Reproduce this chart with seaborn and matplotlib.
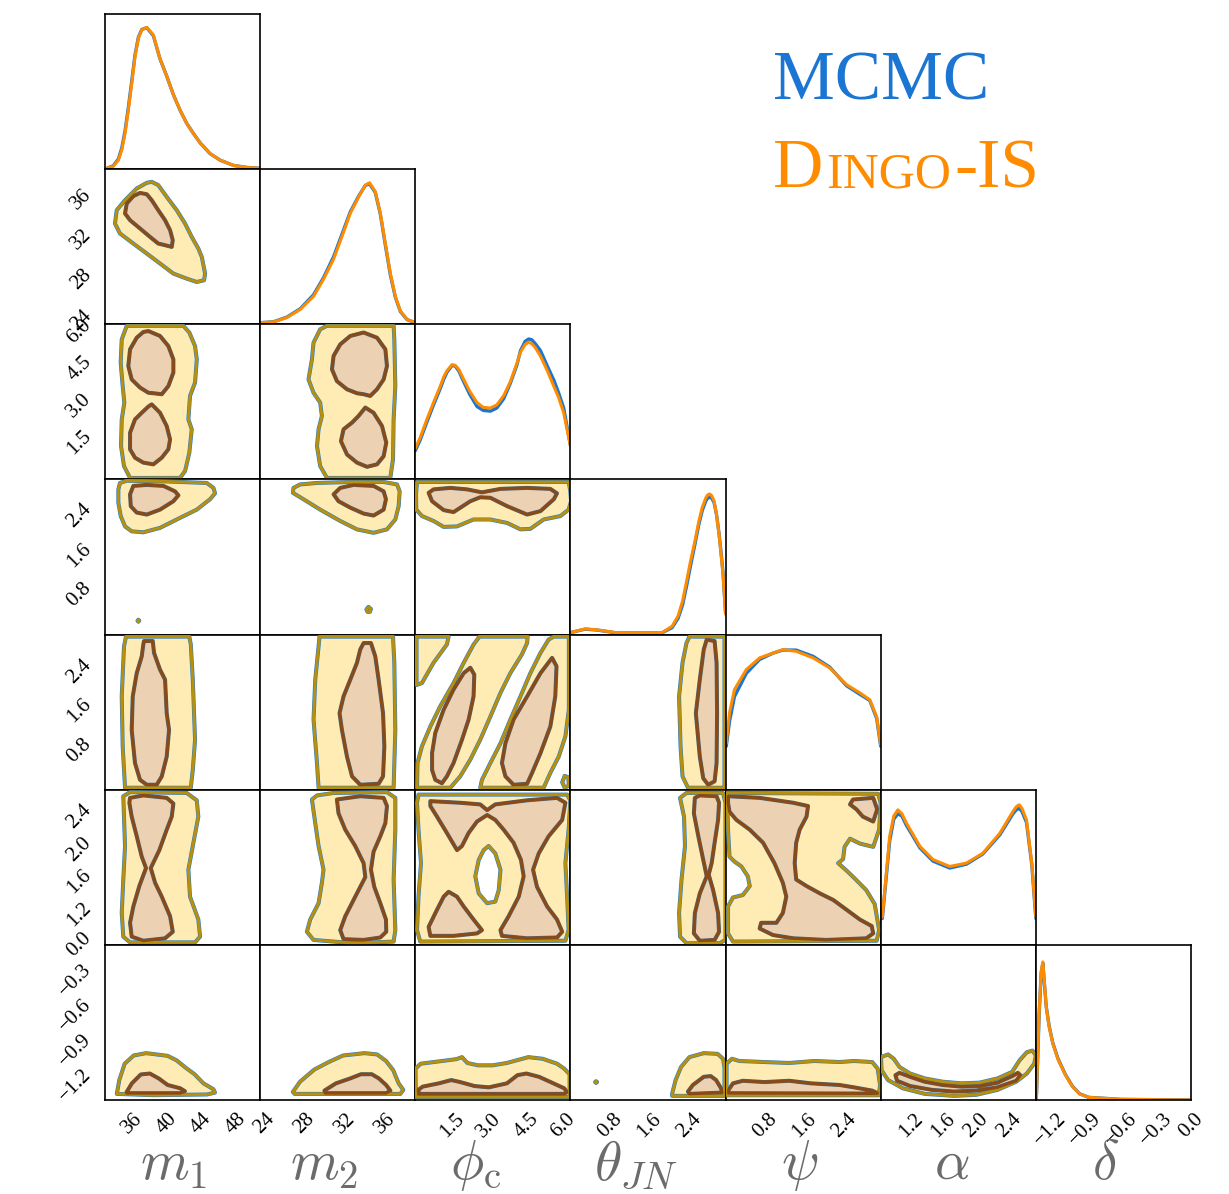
import matplotlib
matplotlib.use("Agg")
import matplotlib.pyplot as plt
import seaborn as sns

sns.set_theme(style="white")
plt.rcParams["font.family"] = ["Liberation Serif", "DejaVu Serif"]
plt.rcParams["mathtext.fontset"] = "cm"
plt.rcParams["axes.unicode_minus"] = True

# ---------------- parameters / axes ----------------
LABELS = [r"$m_1$", r"$m_2$", r"$\phi_\mathrm{c}$", r"$\theta_{JN}$", r"$\psi$", r"$\alpha$", r"$\delta$"]
LIMITS = [(32.9, 50.8), (23.6, 39.0), (0.0, 6.283), (0.0, 3.1416), (0.0, 3.1416), (0.83, 2.73), (-1.325, 0.0)]
TICKS = [[36, 40, 44, 48], [24, 28, 32, 36], [1.5, 3.0, 4.5, 6.0], [0.8, 1.6, 2.4],
         [0.8, 1.6, 2.4], [1.2, 1.6, 2.0, 2.4], [-1.2, -0.9, -0.6, -0.3, 0.0]]
TICK_LABELS = [["36", "40", "44", "48"], ["24", "28", "32", "36"], ["1.5", "3.0", "4.5", "6.0"],
               ["0.8", "1.6", "2.4"], ["0.8", "1.6", "2.4"], ["1.2", "1.6", "2.0", "2.4"],
               ["\u22121.2", "\u22120.9", "\u22120.6", "\u22120.3", "0.0"]]
LABEL_X = [0.445, 0.41, 0.39, 0.42, 0.48, 0.46, 0.45]

# ---------------- 1D marginals (relative density) ----------------
M1_GRID = [33.10, 33.86, 34.44, 34.83, 35.21, 35.59, 35.98, 36.36, 36.75, 37.14, 37.72, 38.48, 39.25,
           40.02, 40.79, 41.56, 42.33, 43.10, 43.87, 45.02, 46.18, 47.72, 49.26, 50.72]
M1_DINGO = [0.005, 0.019, 0.058, 0.123, 0.23, 0.38, 0.55, 0.725, 0.843, 0.897, 0.914, 0.865, 0.71,
            0.60, 0.48, 0.381, 0.294, 0.23, 0.17, 0.10, 0.058, 0.024, 0.011, 0.006]
M1_MCMC = [0.005, 0.022, 0.065, 0.135, 0.245, 0.395, 0.565, 0.735, 0.85, 0.90, 0.912, 0.86, 0.71,
           0.60, 0.48, 0.38, 0.295, 0.23, 0.17, 0.10, 0.058, 0.024, 0.011, 0.006]

M2_GRID = [23.77, 24.92, 26.25, 27.58, 28.90, 29.89, 30.89, 31.72, 32.55, 33.37, 34.04, 34.46, 35.03,
           35.53, 36.03, 36.52, 37.02, 37.52, 38.18, 39.0]
M2_DINGO = [0.011, 0.015, 0.043, 0.096, 0.18, 0.29, 0.42, 0.566, 0.716, 0.82, 0.897, 0.912, 0.855,
            0.716, 0.52, 0.33, 0.18, 0.085, 0.032, 0.011]
M2_MCMC = [0.011, 0.016, 0.046, 0.10, 0.19, 0.30, 0.435, 0.58, 0.725, 0.825, 0.895, 0.905, 0.85,
           0.71, 0.51, 0.32, 0.175, 0.082, 0.03, 0.01]

PHI_GRID = [0.0, 0.2, 0.47, 0.75, 1.01, 1.15, 1.28, 1.49, 1.62, 1.76, 1.96, 2.2, 2.50, 2.75, 3.04, 3.3,
            3.58, 3.85, 4.12, 4.26, 4.45, 4.59, 4.72, 4.86, 5.07, 5.35, 5.61, 5.8, 6.01, 6.283]
PHI_DINGO = [0.20, 0.27, 0.387, 0.50, 0.60, 0.66, 0.70, 0.74, 0.735, 0.71, 0.645, 0.57, 0.495, 0.465,
             0.46, 0.48, 0.54, 0.63, 0.75, 0.82, 0.87, 0.885, 0.875, 0.85, 0.795, 0.70, 0.60, 0.53,
             0.43, 0.215]
PHI_MCMC = [0.185, 0.255, 0.37, 0.485, 0.585, 0.645, 0.69, 0.735, 0.73, 0.70, 0.63, 0.55, 0.47, 0.445,
            0.44, 0.46, 0.52, 0.62, 0.74, 0.83, 0.89, 0.905, 0.90, 0.875, 0.83, 0.73, 0.64, 0.56,
            0.46, 0.22]

THETA_GRID = [0.0, 0.03, 0.30, 0.54, 0.91, 1.40, 1.86, 2.06, 2.18, 2.27, 2.35, 2.43, 2.52, 2.60, 2.67,
              2.74, 2.78, 2.82, 2.86, 2.91, 2.96, 3.01, 3.05, 3.09, 3.1416]
THETA_DINGO = [0.012, 0.015, 0.037, 0.030, 0.013, 0.010, 0.013, 0.054, 0.12, 0.215, 0.34, 0.47, 0.60,
               0.73, 0.82, 0.88, 0.90, 0.906, 0.895, 0.86, 0.77, 0.645, 0.52, 0.39, 0.13]
THETA_MCMC = [0.012, 0.015, 0.035, 0.029, 0.012, 0.010, 0.012, 0.045, 0.105, 0.19, 0.31, 0.44, 0.58,
              0.71, 0.80, 0.86, 0.88, 0.885, 0.88, 0.85, 0.77, 0.65, 0.53, 0.40, 0.14]

PSI_GRID = [0.014, 0.08, 0.18, 0.42, 0.69, 0.96, 1.16, 1.43, 1.77, 2.11, 2.45, 2.72, 2.92, 3.06, 3.1416]
PSI_DINGO = [0.30, 0.495, 0.645, 0.774, 0.85, 0.88, 0.903, 0.892, 0.85, 0.785, 0.677, 0.624, 0.58,
             0.47, 0.29]
PSI_MCMC = [0.28, 0.44, 0.60, 0.75, 0.84, 0.88, 0.90, 0.90, 0.86, 0.79, 0.67, 0.615, 0.575, 0.46, 0.28]

ALPHA_GRID = [0.85, 0.94, 0.99, 1.04, 1.09, 1.145, 1.31, 1.47, 1.675, 1.88, 2.08, 2.29, 2.45, 2.49,
              2.525, 2.56, 2.615, 2.68, 2.73]
ALPHA_DINGO = [0.18, 0.70, 0.83, 0.87, 0.845, 0.785, 0.635, 0.55, 0.505, 0.527, 0.59, 0.72, 0.86,
               0.89, 0.903, 0.88, 0.806, 0.527, 0.18]
ALPHA_MCMC = [0.17, 0.67, 0.81, 0.845, 0.83, 0.77, 0.625, 0.54, 0.495, 0.52, 0.585, 0.71, 0.845,
              0.87, 0.88, 0.86, 0.79, 0.52, 0.17]

DELTA_GRID = [-1.325, -1.319, -1.297, -1.279, -1.265, -1.254, -1.236, -1.212, -1.181, -1.135, -1.073,
              -1.012, -0.951, -0.874, -0.598, 0.0]
DELTA_DINGO = [0.0, 0.043, 0.56, 0.83, 0.89, 0.78, 0.60, 0.475, 0.367, 0.26, 0.162, 0.086, 0.039,
               0.017, 0.004, 0.0]
DELTA_MCMC = [0.0, 0.04, 0.55, 0.82, 0.88, 0.77, 0.60, 0.48, 0.37, 0.265, 0.165, 0.088, 0.04,
              0.017, 0.004, 0.0]

# ---------------- 2D credible regions (x, y) in data units ----------------
# row m2 / col m1
M2_M1_OUT = [(38.29, 37.74), (39.05, 37.41), (40.02, 36.25), (41.18, 34.92), (42.14, 33.60), (42.91, 32.27),
             (43.67, 31.12), (44.07, 30.28), (44.45, 28.63), (44.33, 27.97), (43.49, 27.80), (42.33, 28.13),
             (40.79, 28.63), (39.25, 29.63), (37.72, 30.62), (36.17, 31.61), (34.63, 32.61), (34.05, 33.60),
             (34.25, 34.92), (35.21, 35.92), (36.56, 37.08), (37.72, 37.64)]
M2_M1_IN = [(36.94, 36.64), (37.72, 36.51), (38.29, 35.92), (39.05, 34.92), (39.83, 33.93), (40.41, 32.94),
            (40.72, 31.94), (40.60, 31.28), (39.83, 31.45), (39.05, 31.61), (38.10, 32.27), (36.94, 33.11),
            (35.79, 33.93), (35.21, 34.60), (35.41, 35.59), (36.17, 36.32)]
# row phi_c
PHI_M1_OUT = [(35.41, 6.22), (41.94, 6.22), (42.63, 5.95), (43.29, 5.40), (43.49, 4.86), (43.29, 3.92),
              (42.71, 3.38), (42.52, 2.43), (42.91, 2.03), (42.63, 1.08), (42.14, 0.34), (41.56, 0.06),
              (35.79, 0.06), (35.09, 0.54), (34.75, 1.35), (34.83, 2.43), (35.13, 3.11), (34.94, 3.78),
              (34.71, 4.73), (34.83, 5.67)]
PHI_M1_IN_A = [(37.90, 6.01), (39.25, 5.81), (40.21, 5.40), (40.79, 4.86), (40.79, 4.33), (40.21, 3.78),
               (39.45, 3.45), (38.48, 3.49), (37.90, 3.51), (36.94, 3.72), (35.98, 4.05), (35.59, 4.59),
               (35.79, 5.27), (36.56, 5.74), (37.32, 5.97)]
PHI_M1_IN_B = [(38.29, 3.04), (39.25, 2.70), (40.02, 2.16), (40.41, 1.62), (40.21, 1.22), (39.45, 0.88),
               (38.48, 0.61), (37.32, 0.68), (36.36, 0.88), (35.79, 1.22), (35.79, 1.89), (36.36, 2.43),
               (37.14, 2.70), (37.90, 2.95)]
PHI_M2_OUT = [(30.23, 6.22), (36.85, 6.22), (36.92, 5.67), (37.02, 3.78), (36.85, 2.43), (36.79, 0.81),
              (36.52, 0.06), (30.23, 0.06), (29.56, 0.54), (29.24, 1.35), (29.40, 2.03), (29.73, 2.57),
              (29.56, 3.11), (28.90, 3.51), (28.40, 4.05), (28.74, 4.86), (28.90, 5.54), (29.56, 6.08)]
PHI_M2_IN_A = [(33.87, 5.95), (35.20, 5.74), (36.03, 5.27), (36.19, 4.59), (35.86, 4.05), (35.20, 3.65),
               (34.53, 3.38), (33.87, 3.45), (33.21, 3.49), (32.22, 3.65), (31.22, 3.98), (30.73, 4.46),
               (30.89, 5.00), (31.55, 5.47), (32.55, 5.81)]
PHI_M2_IN_B = [(34.04, 2.91), (34.86, 2.70), (35.70, 2.16), (36.12, 1.49), (35.86, 0.94), (35.20, 0.61),
               (34.21, 0.51), (33.21, 0.68), (32.22, 1.01), (31.62, 1.55), (31.88, 2.03), (32.72, 2.30),
               (33.37, 2.57)]
# row theta_JN
TH_M1_OUT = [(34.63, 3.07), (35.41, 3.115), (40.02, 3.10), (44.64, 3.07), (45.41, 2.97), (45.60, 2.86),
             (45.02, 2.74), (43.49, 2.53), (41.18, 2.33), (39.25, 2.16), (37.32, 2.07), (35.98, 2.09),
             (35.21, 2.19), (34.71, 2.40), (34.44, 2.67), (34.44, 2.94)]
TH_M1_IN = [(36.17, 3.01), (37.72, 3.03), (39.64, 3.01), (40.98, 2.90), (41.37, 2.82), (40.79, 2.70),
            (39.25, 2.53), (37.72, 2.43), (36.56, 2.47), (35.87, 2.60), (35.79, 2.84)]
TH_M1_DOT = [(36.65, 0.28), (36.75, 0.30), (36.85, 0.28), (36.75, 0.26)]
TH_M2_OUT = [(26.91, 2.97), (27.58, 3.04), (29.24, 3.07), (32.55, 3.09), (35.86, 3.09), (37.19, 3.04),
             (37.45, 2.90), (37.35, 2.60), (37.02, 2.33), (36.19, 2.13), (34.86, 2.06), (33.21, 2.13),
             (31.55, 2.30), (29.56, 2.53), (27.90, 2.74), (26.85, 2.87)]
TH_M2_IN = [(31.55, 2.97), (32.87, 3.03), (34.86, 3.01), (35.86, 2.90), (36.09, 2.74), (35.86, 2.53),
            (34.86, 2.41), (33.87, 2.45), (32.55, 2.57), (31.38, 2.70), (30.89, 2.84)]
TH_M2_DOT = [(34.15, 0.51), (34.35, 0.56), (34.60, 0.52), (34.50, 0.46), (34.25, 0.46)]
TH_PHI_OUT = [(0.07, 3.09), (6.21, 3.09), (6.28, 2.90), (6.31, 2.70), (6.21, 2.53), (5.88, 2.40), (5.20, 2.33),
              (4.66, 2.14), (4.26, 2.13), (3.72, 2.26), (3.04, 2.33), (2.36, 2.33), (1.69, 2.19), (1.15, 2.18),
              (0.74, 2.30), (0.27, 2.40), (0.04, 2.53), (0.03, 2.85)]
TH_PHI_IN = [(0.54, 2.87), (0.74, 2.94), (1.42, 2.97), (2.10, 2.94), (2.70, 2.88), (3.45, 2.95), (4.53, 2.97),
             (5.47, 2.95), (5.74, 2.86), (5.61, 2.74), (5.07, 2.50), (4.53, 2.43), (3.72, 2.60), (3.04, 2.77),
             (2.63, 2.78), (2.23, 2.70), (1.55, 2.48), (1.15, 2.52), (0.68, 2.70)]
# row psi
PSI_M1_OUT = [(35.32, 3.10), (42.63, 3.10), (42.80, 2.94), (43.03, 2.23), (43.29, 1.01), (43.03, 0.40),
              (42.80, 0.04), (35.21, 0.04), (34.94, 0.88), (34.83, 1.89), (35.09, 2.90)]
PSI_M1_IN = [(37.40, 3.01), (38.41, 3.01), (38.56, 2.77), (39.25, 2.43), (39.83, 2.23), (40.02, 1.55),
             (40.29, 1.21), (40.02, 0.67), (39.45, 0.27), (38.87, 0.10), (37.72, 0.10), (36.94, 0.20),
             (36.36, 0.54), (35.98, 1.21), (36.10, 1.89), (36.56, 2.36), (37.14, 2.70), (37.32, 2.94)]
PSI_M2_OUT = [(29.49, 3.10), (36.79, 3.10), (36.92, 2.57), (37.02, 1.21), (36.85, 0.04), (29.40, 0.04),
              (29.24, 0.54), (28.90, 1.42), (29.07, 2.23), (29.40, 2.90)]
PSI_M2_IN = [(33.87, 2.97), (34.60, 2.97), (35.03, 2.70), (35.36, 2.23), (35.80, 1.55), (35.93, 0.88),
             (35.80, 0.27), (35.36, 0.12), (33.54, 0.10), (32.72, 0.27), (32.22, 0.67), (31.72, 1.21),
             (31.48, 1.55), (31.88, 1.89), (32.55, 2.23), (33.21, 2.57), (33.54, 2.84)]
PSI_PHI_OUT_A = [(0.05, 3.10), (1.35, 3.10), (1.28, 2.94), (0.74, 2.57), (0.27, 2.16), (0.05, 2.12)]
PSI_PHI_OUT_B = [(0.07, 0.04), (0.09, 0.54), (0.27, 0.88), (0.61, 1.28), (1.01, 1.69), (1.55, 2.16),
                 (1.96, 2.57), (2.36, 2.94), (2.60, 3.10), (4.55, 3.10), (4.53, 2.97), (4.32, 2.74),
                 (3.85, 2.36), (3.45, 1.96), (3.04, 1.48), (2.63, 1.01), (2.23, 0.61), (1.82, 0.27), (1.42, 0.04)]
PSI_PHI_OUT_C = [(2.63, 0.04), (2.70, 0.20), (3.04, 0.54), (3.45, 0.94), (3.85, 1.42), (4.26, 1.89),
                 (4.66, 2.36), (5.07, 2.77), (5.40, 3.04), (5.61, 3.10), (6.22, 3.10), (6.22, 1.62),
                 (6.08, 1.08), (5.81, 0.67), (5.47, 0.34), (5.20, 0.04)]
PSI_PHI_OUT_D = [(5.95, 0.15), (6.05, 0.28), (6.20, 0.25), (6.22, 0.08), (6.05, 0.04)]
PSI_PHI_IN_B = [(2.23, 2.47), (2.39, 2.33), (2.36, 1.89), (2.16, 1.42), (1.89, 1.01), (1.55, 0.54),
                (1.28, 0.27), (1.08, 0.13), (0.81, 0.20), (0.68, 0.40), (0.68, 0.74), (0.81, 1.15),
                (1.15, 1.62), (1.55, 2.03), (1.96, 2.36)]
PSI_PHI_IN_C = [(5.54, 2.67), (5.72, 2.50), (5.67, 1.89), (5.47, 1.28), (5.07, 0.74), (4.73, 0.34),
                (4.53, 0.12), (3.98, 0.10), (3.65, 0.27), (3.51, 0.54), (3.65, 0.94), (3.98, 1.42),
                (4.53, 1.89), (5.07, 2.36)]
PSI_TH_OUT = [(2.41, 3.10), (3.12, 3.10), (3.12, 0.04), (2.38, 0.04), (2.27, 0.27), (2.23, 0.88),
              (2.20, 1.89), (2.27, 2.57), (2.35, 2.97)]
PSI_TH_IN = [(2.76, 3.04), (2.92, 3.01), (2.96, 2.57), (2.97, 1.55), (2.96, 0.54), (2.92, 0.17),
             (2.79, 0.10), (2.69, 0.23), (2.62, 0.67), (2.54, 1.55), (2.62, 2.23), (2.70, 2.84)]
# row alpha
AL_M1_OUT = [(35.01, 2.65), (35.79, 2.70), (42.33, 2.69), (43.49, 2.60), (43.67, 2.40), (43.10, 2.08),
             (42.52, 1.75), (42.71, 1.42), (43.67, 1.14), (43.87, 0.93), (43.29, 0.86), (35.79, 0.86),
             (35.01, 0.93), (34.83, 1.22), (35.01, 1.63), (35.21, 2.04), (35.09, 2.40)]
AL_M1_IN = [(35.79, 2.63), (37.32, 2.66), (40.02, 2.63), (40.79, 2.56), (40.60, 2.40), (40.02, 2.24),
            (39.17, 1.99), (38.18, 1.77), (38.68, 1.59), (39.45, 1.42), (40.41, 1.18), (40.72, 0.99),
            (39.83, 0.91), (37.32, 0.88), (35.98, 0.93), (35.79, 1.10), (36.17, 1.30), (36.86, 1.55),
            (37.63, 1.77), (37.14, 1.91), (36.56, 2.16), (35.98, 2.40), (35.71, 2.57)]
AL_M2_OUT = [(28.74, 2.61), (29.24, 2.66), (30.89, 2.69), (36.19, 2.70), (37.02, 2.63), (37.02, 2.24),
             (36.85, 1.63), (37.02, 1.01), (36.85, 0.87), (32.87, 0.85), (28.90, 0.89), (28.24, 0.99),
             (28.57, 1.14), (29.40, 1.34), (29.73, 1.59), (29.89, 1.75), (29.40, 2.04), (29.07, 2.32)]
AL_M2_IN = [(31.22, 2.61), (33.54, 2.65), (35.86, 2.63), (36.19, 2.53), (36.03, 2.32), (35.53, 2.16),
            (34.86, 1.97), (34.60, 1.75), (34.93, 1.54), (35.53, 1.34), (36.09, 1.14), (36.12, 0.99),
            (35.53, 0.92), (33.87, 0.89), (31.88, 0.90), (31.55, 1.01), (32.05, 1.18), (33.04, 1.42),
            (34.04, 1.66), (33.87, 1.83), (33.04, 2.04), (32.05, 2.24), (31.38, 2.44)]
AL_PHI_OUT = [(0.13, 2.67), (6.15, 2.67), (6.28, 2.60), (6.21, 2.24), (6.08, 1.83), (6.15, 1.42),
              (6.21, 1.01), (6.08, 0.88), (0.20, 0.87), (0.07, 1.01), (0.13, 1.42), (0.23, 1.83),
              (0.13, 2.24), (0.07, 2.57)]
AL_PHI_HOLE = [(2.97, 2.04), (3.24, 1.95), (3.45, 1.75), (3.38, 1.50), (3.24, 1.36), (2.91, 1.34),
               (2.57, 1.46), (2.43, 1.67), (2.57, 1.87), (2.77, 1.99)]
AL_PHI_IN_A = [(0.61, 2.59), (1.82, 2.57), (2.63, 2.55), (2.91, 2.48), (3.24, 2.55), (4.53, 2.60), (5.74, 2.63),
               (6.08, 2.57), (5.95, 2.36), (5.40, 2.16), (5.00, 1.95), (4.77, 1.75), (4.93, 1.54), (5.34, 1.30),
               (5.74, 1.14), (5.95, 0.99), (5.74, 0.92), (4.53, 0.91), (3.51, 0.94), (3.45, 1.01), (3.78, 1.18),
               (4.19, 1.42), (4.39, 1.67), (4.28, 1.87), (3.98, 2.08), (3.58, 2.24), (3.24, 2.36), (2.91, 2.42),
               (2.50, 2.34), (2.16, 2.20), (1.89, 2.04), (1.69, 1.99), (1.28, 2.20), (0.88, 2.40), (0.61, 2.53)]
AL_PHI_IN_B = [(1.35, 1.48), (1.69, 1.42), (1.96, 1.30), (2.36, 1.14), (2.70, 1.01), (2.50, 0.97), (1.55, 0.94),
               (0.61, 0.94), (0.54, 1.05), (0.88, 1.26), (1.15, 1.42)]
AL_TH_OUT = [(2.22, 2.63), (2.35, 2.69), (3.09, 2.69), (3.14, 2.57), (3.14, 0.89), (3.02, 0.85), (2.35, 0.85),
             (2.22, 0.93), (2.20, 1.22), (2.25, 1.63), (2.32, 2.04), (2.30, 2.40)]
AL_TH_IN = [(2.52, 2.63), (2.62, 2.66), (2.96, 2.65), (3.01, 2.57), (2.99, 2.36), (2.92, 2.08), (2.86, 1.83),
            (2.80, 1.69), (2.89, 1.50), (2.99, 1.22), (3.01, 0.99), (2.92, 0.89), (2.62, 0.88), (2.50, 0.97),
            (2.52, 1.22), (2.62, 1.46), (2.76, 1.67), (2.69, 1.87), (2.59, 2.16), (2.50, 2.44)]
AL_PSI_OUT = [(0.03, 2.69), (3.09, 2.68), (3.14, 2.57), (3.11, 2.24), (2.99, 2.03), (2.72, 2.07), (2.52, 2.13),
              (2.41, 2.03), (2.38, 1.88), (2.28, 1.83), (2.45, 1.74), (2.62, 1.64), (2.85, 1.50), (3.02, 1.33),
              (3.11, 1.01), (3.06, 0.88), (0.15, 0.87), (0.05, 0.97), (0.05, 1.30), (0.15, 1.41), (0.35, 1.44),
              (0.49, 1.55), (0.45, 1.67), (0.32, 1.79), (0.18, 1.85), (0.08, 1.91), (0.05, 2.24)]
AL_PSI_IN_A = [(0.05, 2.65), (0.69, 2.63), (1.37, 2.57), (1.67, 2.53), (1.64, 2.40), (1.50, 2.24), (1.43, 2.08),
               (1.40, 1.83), (1.43, 1.63), (1.64, 1.55), (1.91, 1.46), (2.18, 1.38), (2.45, 1.26), (2.72, 1.14),
               (2.96, 1.06), (2.99, 0.97), (2.85, 0.91), (2.04, 0.89), (1.37, 0.91), (0.96, 0.95), (0.69, 1.03),
               (0.72, 1.10), (1.03, 1.10), (1.16, 1.22), (1.23, 1.42), (1.16, 1.59), (0.99, 1.83), (0.76, 2.08),
               (0.49, 2.24), (0.22, 2.36), (0.08, 2.46), (0.05, 2.57)]
AL_PSI_IN_B = [(2.58, 2.61), (2.99, 2.63), (3.07, 2.49), (2.99, 2.34), (2.78, 2.40), (2.65, 2.49), (2.52, 2.55)]
# row delta
DE_M1_OUT = [(34.26, -1.273), (34.55, -1.155), (35.17, -1.015), (36.21, -0.945), (37.65, -0.925),
             (40.13, -0.948), (41.17, -0.987), (42.20, -1.049), (43.23, -1.105), (44.26, -1.183),
             (45.42, -1.234), (45.59, -1.262), (44.68, -1.278), (38.48, -1.284)]
DE_M1_IN = [(35.38, -1.259), (36.00, -1.183), (37.03, -1.107), (38.07, -1.099), (39.10, -1.141),
            (40.13, -1.197), (41.58, -1.225), (42.12, -1.250), (41.58, -1.267), (35.38, -1.267)]
DE_M2_OUT = [(26.85, -1.256), (27.56, -1.169), (28.98, -1.065), (30.41, -1.001), (31.83, -0.945),
             (33.96, -0.925), (35.21, -0.936), (36.10, -0.992), (36.81, -1.071), (37.35, -1.183),
             (37.81, -1.239), (37.52, -1.273), (27.02, -1.273)]
DE_M2_IN = [(29.98, -1.245), (31.12, -1.183), (32.54, -1.141), (33.61, -1.105), (34.68, -1.105),
            (35.39, -1.141), (36.10, -1.197), (36.53, -1.245), (36.10, -1.267), (30.05, -1.267)]
DE_PHI_OUT = [(0.01, -1.057), (0.22, -1.015), (1.09, -0.992), (1.67, -0.976), (1.89, -0.959), (2.11, -1.009),
              (2.54, -1.029), (3.13, -1.029), (3.71, -1.009), (4.58, -0.959), (5.16, -0.973), (5.74, -1.015),
              (6.03, -1.057), (6.25, -1.105), (6.25, -1.30), (0.02, -1.30)]
DE_PHI_IN = [(0.12, -1.239), (0.30, -1.211), (0.95, -1.183), (1.46, -1.155), (1.82, -1.172), (2.40, -1.206),
             (2.98, -1.217), (3.71, -1.183), (4.14, -1.113), (4.50, -1.099), (5.01, -1.127), (5.45, -1.169),
             (6.03, -1.225), (6.14, -1.256), (6.03, -1.273), (0.15, -1.273)]
DE_TH_OUT = [(2.06, -1.27), (2.13, -1.155), (2.24, -1.043), (2.41, -0.959), (2.70, -0.925), (2.98, -0.931),
             (3.09, -0.973), (3.12, -1.05), (3.12, -1.29), (2.06, -1.29)]
DE_TH_IN = [(2.38, -1.253), (2.48, -1.197), (2.70, -1.127), (2.84, -1.121), (2.95, -1.155), (3.05, -1.225),
            (3.07, -1.262), (2.41, -1.273)]
DE_TH_DOT = [(0.50, -1.172), (0.52, -1.165), (0.54, -1.172), (0.52, -1.179)]
DE_PSI_OUT = [(0.02, -1.015), (0.13, -0.973), (0.28, -0.992), (0.79, -1.001), (1.29, -1.009), (1.80, -0.992),
              (2.31, -1.001), (2.60, -0.992), (2.97, -1.001), (3.08, -1.057), (3.13, -1.20), (3.10, -1.285),
              (0.02, -1.285)]
DE_PSI_IN = [(0.06, -1.239), (0.15, -1.183), (0.35, -1.161), (0.79, -1.172), (1.29, -1.161), (1.73, -1.183),
             (2.31, -1.197), (2.60, -1.217), (2.97, -1.245), (3.08, -1.267), (3.00, -1.270), (0.06, -1.267)]
DE_AL_OUT = [(0.834, -0.959), (0.92, -0.936), (0.99, -0.973), (1.06, -1.043), (1.19, -1.099), (1.37, -1.141),
             (1.59, -1.169), (1.82, -1.183), (2.04, -1.177), (2.26, -1.141), (2.44, -1.085), (2.53, -0.987),
             (2.62, -0.917), (2.69, -0.903), (2.73, -0.945), (2.71, -1.015), (2.62, -1.099), (2.49, -1.169),
             (2.26, -1.239), (2.00, -1.281), (1.73, -1.29), (1.37, -1.273), (1.10, -1.225), (0.92, -1.155),
             (0.84, -1.071)]
DE_AL_IN = [(1.01, -1.113), (1.06, -1.093), (1.19, -1.127), (1.37, -1.169), (1.59, -1.197), (1.82, -1.211),
            (2.04, -1.206), (2.26, -1.177), (2.44, -1.121), (2.51, -1.093), (2.54, -1.113), (2.49, -1.161),
            (2.26, -1.217), (2.00, -1.245), (1.73, -1.253), (1.46, -1.239), (1.19, -1.206), (1.03, -1.161)]

MARGINALS = [(M1_GRID, M1_MCMC, M1_DINGO), (M2_GRID, M2_MCMC, M2_DINGO), (PHI_GRID, PHI_MCMC, PHI_DINGO),
             (THETA_GRID, THETA_MCMC, THETA_DINGO), (PSI_GRID, PSI_MCMC, PSI_DINGO),
             (ALPHA_GRID, ALPHA_MCMC, ALPHA_DINGO), (DELTA_GRID, DELTA_MCMC, DELTA_DINGO)]

# (row, col): (outer regions, holes, inner regions)
PANELS = {
    (1, 0): ([M2_M1_OUT], [], [M2_M1_IN]),
    (2, 0): ([PHI_M1_OUT], [], [PHI_M1_IN_A, PHI_M1_IN_B]),
    (2, 1): ([PHI_M2_OUT], [], [PHI_M2_IN_A, PHI_M2_IN_B]),
    (3, 0): ([TH_M1_OUT, TH_M1_DOT], [], [TH_M1_IN]),
    (3, 1): ([TH_M2_OUT, TH_M2_DOT], [], [TH_M2_IN]),
    (3, 2): ([TH_PHI_OUT], [], [TH_PHI_IN]),
    (4, 0): ([PSI_M1_OUT], [], [PSI_M1_IN]),
    (4, 1): ([PSI_M2_OUT], [], [PSI_M2_IN]),
    (4, 2): ([PSI_PHI_OUT_A, PSI_PHI_OUT_B, PSI_PHI_OUT_C, PSI_PHI_OUT_D], [], [PSI_PHI_IN_B, PSI_PHI_IN_C]),
    (4, 3): ([PSI_TH_OUT], [], [PSI_TH_IN]),
    (5, 0): ([AL_M1_OUT], [], [AL_M1_IN]),
    (5, 1): ([AL_M2_OUT], [], [AL_M2_IN]),
    (5, 2): ([AL_PHI_OUT], [AL_PHI_HOLE], [AL_PHI_IN_A, AL_PHI_IN_B]),
    (5, 3): ([AL_TH_OUT], [], [AL_TH_IN]),
    (5, 4): ([AL_PSI_OUT], [], [AL_PSI_IN_A, AL_PSI_IN_B]),
    (6, 0): ([DE_M1_OUT], [], [DE_M1_IN]),
    (6, 1): ([DE_M2_OUT], [], [DE_M2_IN]),
    (6, 2): ([DE_PHI_OUT], [], [DE_PHI_IN]),
    (6, 3): ([DE_TH_OUT, DE_TH_DOT], [], [DE_TH_IN]),
    (6, 4): ([DE_PSI_OUT], [], [DE_PSI_IN]),
    (6, 5): ([DE_AL_OUT], [], [DE_AL_IN]),
}

# ---------------- style ----------------
BLUE = "#1a76d2"
ORANGE = "#ff8c00"
OUT_FILL = "#ffecb5"
IN_FILL = "#ecd2b3"
OUT_EDGE = "#b8900c"
IN_EDGE = "#8b4a14"
MC_OUT_EDGE = "#2a7fcc"
MC_IN_EDGE = "#4d6378"
LABEL_GREY = "#6b6b6b"

W, H = 1229, 1194
X0, Y0, S = 105, 14, 155.14

fig = plt.figure(figsize=(W / 100, H / 100), dpi=100)


def xy(pts):
    return [p[0] for p in pts], [p[1] for p in pts]


for r in range(7):
    for c in range(r + 1):
        ax = fig.add_axes([(X0 + c * S) / W, 1 - (Y0 + (r + 1) * S) / H, S / W, S / H])
        ax.set_xlim(*LIMITS[c])
        if r == c:
            grid, mc, dg = MARGINALS[r]
            sns.lineplot(x=grid, y=mc, ax=ax, color=BLUE, lw=2.4)
            sns.lineplot(x=grid, y=dg, ax=ax, color=ORANGE, lw=2.2)
            ax.set_ylim(0, 1.0)
        else:
            ax.set_ylim(*LIMITS[r])
            outers, holes, inners = PANELS[(r, c)]
            for p in outers:
                ax.fill(*xy(p), facecolor=OUT_FILL, edgecolor="none", zorder=1)
            for p in holes:
                ax.fill(*xy(p), facecolor="white", edgecolor="none", zorder=1.5)
            for p in inners:
                ax.fill(*xy(p), facecolor=IN_FILL, edgecolor="none", zorder=2)
            for p in outers + holes:
                ax.fill(*xy(p), facecolor="none", edgecolor=MC_OUT_EDGE, lw=2.9, zorder=3, joinstyle="round")
            for p in inners:
                ax.fill(*xy(p), facecolor="none", edgecolor=MC_IN_EDGE, lw=2.9, zorder=3, joinstyle="round")
            for p in outers + holes:
                ax.fill(*xy(p), facecolor="none", edgecolor=OUT_EDGE, lw=2.1, zorder=4, joinstyle="round")
            for p in inners:
                ax.fill(*xy(p), facecolor="none", edgecolor=IN_EDGE, lw=2.1, zorder=4, joinstyle="round")

        for sp in ax.spines.values():
            sp.set_color("black")
            sp.set_linewidth(1.2)
        ax.set_xlabel("")
        ax.set_ylabel("")
        ax.tick_params(direction="out", length=5, width=1.0, colors="black", labelsize=15, pad=2)
        if r == 6:
            ax.set_xticks(TICKS[c])
            ax.set_xticklabels(TICK_LABELS[c], rotation=45, ha="center")
            ax.set_xlabel(LABELS[c], fontsize=40, color=LABEL_GREY, va="baseline")
            ax.xaxis.set_label_coords(LABEL_X[c], -0.51)
        else:
            ax.set_xticks([])
        if c == 0 and r > 0:
            ax.set_yticks(TICKS[r])
            ax.set_yticklabels(TICK_LABELS[r], rotation=45, va="center")
        else:
            ax.set_yticks([])

# ---------------- legend texts ----------------
fig.text(773 / W, 1 - 100 / H, "MCMC", fontsize=50, color=BLUE, va="baseline", ha="left")
renderer = fig.canvas.get_renderer()
base_y = 1 - 187 / H
xpos = 773
for txt, size in [("D", 50), ("INGO", 36), ("-IS", 50)]:
    t = fig.text(xpos / W, base_y, txt, fontsize=size, color=ORANGE, va="baseline", ha="left")
    bb = t.get_window_extent(renderer)
    xpos = bb.x1 + 3

fig.savefig("out.png", dpi=100)
